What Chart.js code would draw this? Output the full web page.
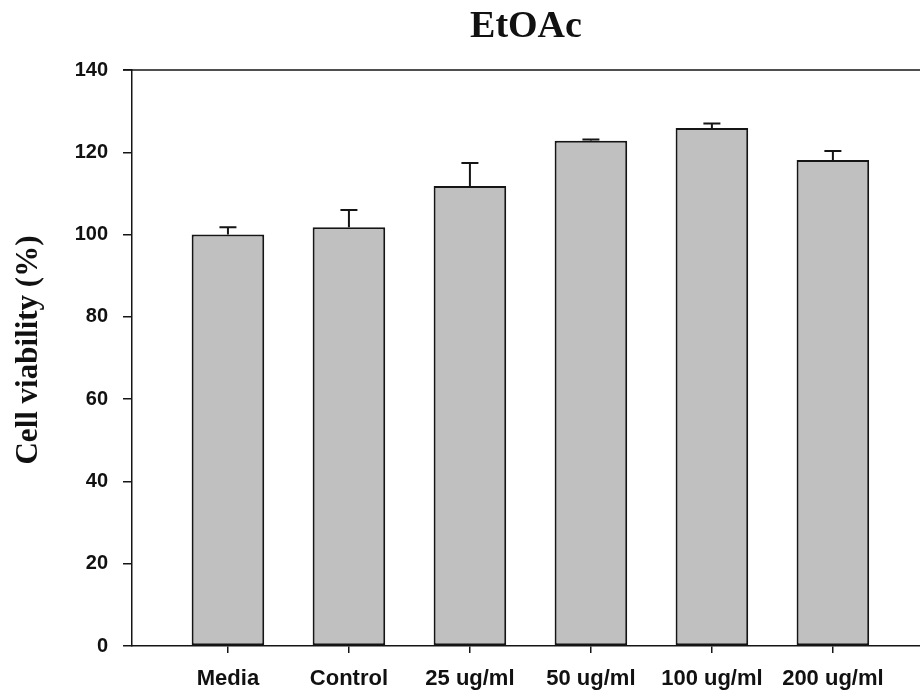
<!DOCTYPE html>
<html>
<head>
<meta charset="utf-8">
<script src="https://cdn.jsdelivr.net/npm/chart.js@4/dist/chart.umd.min.js"></script>
<style>
  html, body { margin: 0; padding: 0; background: #fff; }
  #wrap { width: 920px; height: 694px; position: relative; }
</style>
</head>
<body>
<div id="wrap"><canvas id="c"></canvas></div>
<script>
// Cell viability after EtOAc extract treatment
const categories = ['Media', 'Control', '25 ug/ml', '50 ug/ml', '100 ug/ml', '200 ug/ml'];
const viability = [100.0, 101.8, 111.8, 122.8, 125.9, 118.1];
const viabilityErr = [1.8, 4.2, 5.6, 0.3, 1.1, 2.2];
const yTicks = [0, 20, 40, 60, 80, 100, 120, 140];

const INK = '#151515';

// Upward-only error bars with caps
const errorBars = {
  id: 'errorBars',
  afterDatasetsDraw(chart) {
    const xs = chart.scales.x, ys = chart.scales.y, ctx = chart.ctx;
    ctx.save();
    ctx.strokeStyle = INK;
    ctx.lineWidth = 2;
    viability.forEach((v, i) => {
      const x = xs.getPixelForValue(i);
      const y0 = ys.getPixelForValue(v);
      const y1 = ys.getPixelForValue(v + viabilityErr[i]);
      ctx.beginPath();
      ctx.moveTo(x, y0);
      ctx.lineTo(x, y1);
      ctx.moveTo(x - 8.5, y1);
      ctx.lineTo(x + 8.5, y1);
      ctx.stroke();
    });
    ctx.restore();
  }
};

// Title, y-axis title and the top frame line
const frameAndTitles = {
  id: 'frameAndTitles',
  afterDraw(chart) {
    const a = chart.chartArea, ctx = chart.ctx;
    ctx.save();
    ctx.strokeStyle = INK;
    ctx.lineWidth = 1.5;
    ctx.beginPath();
    ctx.moveTo(a.left - 9, a.top);
    ctx.lineTo(a.right, a.top);
    ctx.stroke();

    ctx.fillStyle = '#111';
    ctx.font = 'bold 38px "Liberation Serif", "Times New Roman", serif';
    ctx.textAlign = 'center';
    ctx.textBaseline = 'alphabetic';
    ctx.fillText('EtOAc', (a.left + a.right) / 2, 37);

    ctx.translate(37, 350);
    ctx.rotate(-Math.PI / 2);
    ctx.font = 'bold 31px "Liberation Serif", "Times New Roman", serif';
    ctx.fillText('Cell viability (%)', 0, 0);
    ctx.restore();
  }
};

new Chart(document.getElementById('c'), {
  type: 'bar',
  data: {
    datasets: [{
      data: viability.map((v, i) => ({ x: i, y: v })),
      backgroundColor: '#c0c0c0',
      borderColor: INK,
      borderWidth: 2,
      borderSkipped: false,
      barPercentage: 0.6,
      categoryPercentage: 1.0
    }]
  },
  options: {
    responsive: true,
    maintainAspectRatio: false,
    animation: false,
    layout: { padding: { top: 70, right: 0, left: 0, bottom: 0 } },
    plugins: { legend: { display: false }, tooltip: { enabled: false }, title: { display: false } },
    scales: {
      x: {
        type: 'linear',
        offset: false,
        min: -0.793,
        max: 5.72,
        afterBuildTicks(scale) { scale.ticks = categories.map((_, i) => ({ value: i })); },
        afterFit(scale) { scale.height = 48; },
        grid: { display: true, offset: false, drawOnChartArea: false, drawTicks: true, tickLength: 7, tickColor: INK, lineWidth: 1.5 },
        border: { display: true, color: INK, width: 1.5 },
        ticks: {
          autoSkip: false,
          maxRotation: 0,
          padding: 13,
          color: '#111',
          font: { family: '"Liberation Sans", Arial, sans-serif', size: 22, weight: 'bold' },
          callback: (v) => categories[v]
        }
      },
      y: {
        min: 0,
        max: 140,
        afterBuildTicks(scale) { scale.ticks = yTicks.map(v => ({ value: v })); },
        afterFit(scale) { scale.width = 132; },
        grid: { display: true, drawOnChartArea: false, drawTicks: true, tickLength: 9, tickColor: INK, lineWidth: 1.5 },
        border: { display: true, color: INK, width: 1.5 },
        ticks: {
          padding: 15,
          color: '#111',
          font: { family: '"Liberation Sans", Arial, sans-serif', size: 20, weight: 'bold' }
        }
      }
    }
  },
  plugins: [errorBars, frameAndTitles]
});
</script>
</body>
</html>
